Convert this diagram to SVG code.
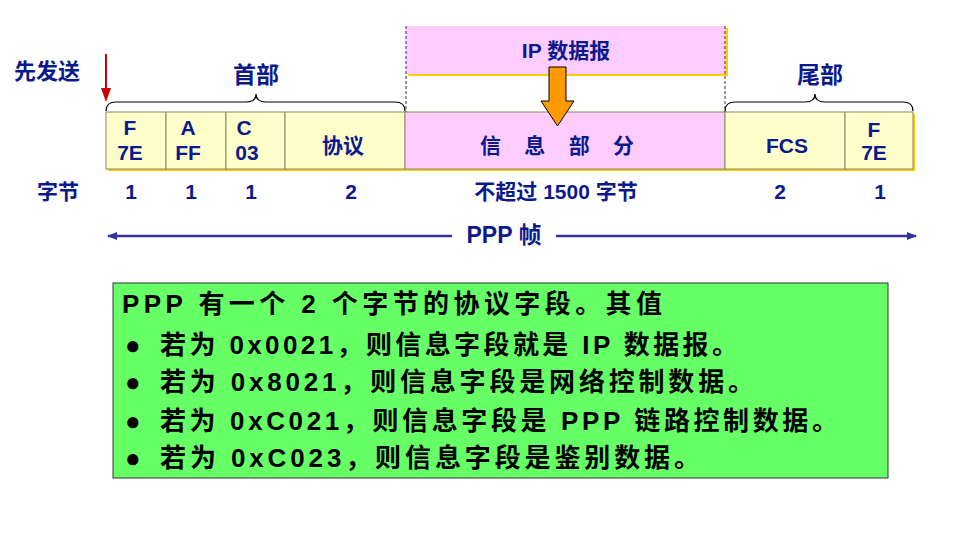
<svg xmlns="http://www.w3.org/2000/svg" width="954" height="544" viewBox="0 0 954 544">
<style>
text{font-family:"Liberation Sans","Noto Sans CJK SC",sans-serif;font-weight:bold;fill:#0a1a8c;text-anchor:middle}
.c{font-size:21px}
.y{fill:#ffffcc;stroke:#888866;stroke-width:1}
.p{fill:#ffccff;stroke:none}
.sh{fill:#ffcc00}
.br{fill:none;stroke:#000;stroke-width:1.2}
.dl{stroke:#333;stroke-width:1;stroke-dasharray:3,2}
.g{font-size:26px;fill:#000;text-anchor:start}
</style>
<defs>
<marker id="ab" markerWidth="10" markerHeight="8" refX="9" refY="4" orient="auto" markerUnits="userSpaceOnUse"><path d="M0,0 L10,4 L0,8 Z" fill="#333399"/></marker>
</defs>
<rect width="954" height="544" fill="#fff"/>
<g id="labels">
<text x="47" y="79" style="font-size:22px">先发送</text>
<text x="256" y="83" style="font-size:23px">首部</text>
<text x="820" y="83" style="font-size:23px">尾部</text>
<text x="58" y="199" style="font-size:21px">字节</text>
</g>
<g id="ipbox">
<rect x="408" y="28" width="320" height="48" class="sh"/>
<rect x="406" y="26" width="320" height="48" class="p" stroke="#999" stroke-width="0.5"/>
<text x="566" y="58" class="c">IP 数据报</text>
</g>
<g id="frame">
<rect x="108" y="114" width="807" height="57" class="sh"/>
<rect x="106" y="112" width="60" height="57" class="y"/>
<rect x="166" y="112" width="60" height="57" class="y"/>
<rect x="226" y="112" width="59" height="57" class="y"/>
<rect x="285" y="112" width="120" height="57" class="y"/>
<rect x="405" y="112" width="320" height="57" class="y" style="fill:#ffccff"/>
<rect x="725" y="112" width="120" height="57" class="y"/>
<rect x="845" y="112" width="68" height="57" class="y"/>
<g class="c"><text x="130" y="135">F</text><text x="130" y="160">7E</text>
<text x="188" y="135">A</text><text x="188" y="160">FF</text>
<text x="244" y="135">C</text><text x="247" y="160">03</text>
<text x="343" y="153">协议</text>
<text x="557" y="153" xml:space="preserve">信    息    部    分</text>
<text x="787" y="153">FCS</text>
<text x="874" y="137">F</text><text x="874" y="160">7E</text></g>
</g>
<g id="bytes" class="c">
<text x="131" y="199">1</text><text x="191" y="199">1</text><text x="251" y="199">1</text><text x="351" y="199">2</text>
<text x="556" y="199">不超过 1500 字节</text><text x="780" y="199">2</text><text x="880" y="199">1</text>
</g>
<g id="connectors">
<line x1="106" y1="54" x2="106" y2="94" stroke="#cc0000" stroke-width="2"/>
<path d="M101,88 L106,102 L111,88 Z" fill="#cc0000"/>
<path class="br" d="M106,111 Q106,102 116,102 L246,102 Q256,102 256,94 Q256,102 266,102 L395,102 Q405,102 405,111"/>
<path class="br" d="M725,111 Q725,102 735,102 L805,102 Q815,102 815,94 Q815,102 825,102 L903,102 Q913,102 913,111"/>
<line x1="406" y1="26" x2="406" y2="112" class="dl"/>
<line x1="725" y1="26" x2="725" y2="112" class="dl"/>
<path d="M549,67 L566,67 L566,101 L574,101 L557.5,126 L541,101 L549,101 Z" fill="#ff9900" stroke="#000" stroke-width="1"/>
<line x1="452" y1="236" x2="108" y2="236" stroke="#333399" stroke-width="2.5" marker-end="url(#ab)"/>
<line x1="556" y1="236" x2="916" y2="236" stroke="#333399" stroke-width="2.5" marker-end="url(#ab)"/>
<text x="504" y="243" style="font-size:23px">PPP 帧</text>
</g>
<g id="note">
<rect x="113" y="283" width="775" height="195" fill="#66ff66" stroke="#333" stroke-width="1"/>
<text x="122" y="313" class="g" textLength="540" lengthAdjust="spacing">PPP 有一个 2 个字节的协议字段。其值</text>
<text x="125" y="354" class="g">●</text>
<text x="125" y="391" class="g">●</text>
<text x="125" y="430" class="g">●</text>
<text x="125" y="467" class="g">●</text>
<text x="160" y="354" class="g" textLength="578" lengthAdjust="spacing">若为 0x0021，则信息字段就是 IP 数据报。</text>
<text x="160" y="391" class="g" textLength="594" lengthAdjust="spacing">若为 0x8021，则信息字段是网络控制数据。</text>
<text x="160" y="430" class="g" textLength="678" lengthAdjust="spacing">若为 0xC021，则信息字段是 PPP 链路控制数据。</text>
<text x="160" y="467" class="g" textLength="540" lengthAdjust="spacing">若为 0xC023，则信息字段是鉴别数据。</text>
</g>
</svg>
